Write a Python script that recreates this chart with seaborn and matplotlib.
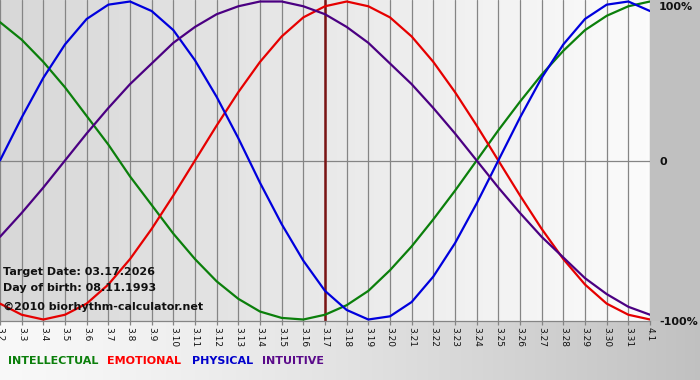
import numpy as np
import pandas as pd
import matplotlib
matplotlib.use("Agg")
import matplotlib.pyplot as plt
import seaborn as sns

# ---------------- data ----------------
days = ["3.2", "3.3", "3.4", "3.5", "3.6", "3.7", "3.8", "3.9", "3.10", "3.11",
        "3.12", "3.13", "3.14", "3.15", "3.16", "3.17", "3.18", "3.19", "3.20",
        "3.21", "3.22", "3.23", "3.24", "3.25", "3.26", "3.27", "3.28", "3.29",
        "3.30", "3.31", "4.1"]
physical = [0.00, 0.27, 0.52, 0.73, 0.89, 0.98, 1.00, 0.94, 0.82, 0.63, 0.40,
            0.14, -0.14, -0.40, -0.63, -0.82, -0.94, -1.00, -0.98, -0.89, -0.73,
            -0.52, -0.27, 0.00, 0.27, 0.52, 0.73, 0.89, 0.98, 1.00, 0.94]
emotional = [-0.90, -0.97, -1.00, -0.97, -0.90, -0.78, -0.62, -0.43, -0.22, 0.00,
             0.22, 0.43, 0.62, 0.78, 0.90, 0.97, 1.00, 0.97, 0.90, 0.78, 0.62,
             0.43, 0.22, 0.00, -0.22, -0.43, -0.62, -0.78, -0.90, -0.97, -1.00]
intellectual = [0.87, 0.76, 0.62, 0.46, 0.28, 0.10, -0.10, -0.28, -0.46, -0.62,
                -0.76, -0.87, -0.95, -0.99, -1.00, -0.97, -0.91, -0.82, -0.69,
                -0.54, -0.37, -0.19, 0.00, 0.19, 0.37, 0.54, 0.69, 0.82, 0.91,
                0.97, 1.00]
intuitive = [-0.48, -0.33, -0.17, 0.00, 0.17, 0.33, 0.48, 0.61, 0.74, 0.84, 0.92,
             0.97, 1.00, 1.00, 0.97, 0.92, 0.84, 0.74, 0.61, 0.48, 0.33, 0.17,
             0.00, -0.17, -0.33, -0.48, -0.61, -0.74, -0.84, -0.92, -0.97]
series_names = ["INTELLECTUAL", "EMOTIONAL", "PHYSICAL", "INTUITIVE"]
target_day = "3.17"
y_labels = ["100%", "0", "-100%"]
info_lines = ["Target Date: 03.17.2026", "Day of birth: 08.11.1993",
              "\u00a92010 biorhythm-calculator.net"]

# ---------------- styles ----------------
line_colors = {"INTELLECTUAL": "#0b7f0b", "EMOTIONAL": "#e60000",
               "PHYSICAL": "#0000dd", "INTUITIVE": "#4b0082"}
legend_colors = {"INTELLECTUAL": "#0b7f0b", "EMOTIONAL": "#ff0000",
                 "PHYSICAL": "#0000cc", "INTUITIVE": "#5a0a8a"}

sns.set_theme(style="white")
plt.rcParams["font.family"] = ["DejaVu Sans"]

W, H = 700, 380
PX_RIGHT, PX_BOTTOM = 650, 321
fig = plt.figure(figsize=(W / 100, H / 100), dpi=100)

# background image (gradients)
bg = np.empty((H, W, 3))
bg[:, :, :] = 0.755  # right margin gray
xs_plot = np.linspace(0, 1, PX_RIGHT)
plot_shade = 0.845 + (0.985 - 0.845) * xs_plot
bg[:PX_BOTTOM, :PX_RIGHT, :] = plot_shade[None, :, None]
xs_all = np.linspace(0, 1, W)
bottom_shade = 0.975 - (0.975 - 0.755) * xs_all ** 1.3
bg[PX_BOTTOM:, :, :] = bottom_shade[None, :, None]
bgax = fig.add_axes([0, 0, 1, 1])
bgax.imshow(bg, aspect="auto", interpolation="bilinear")
bgax.set_axis_off()

ax = fig.add_axes([0, (H - PX_BOTTOM) / H, PX_RIGHT / W, PX_BOTTOM / H])
ax.patch.set_alpha(0)

x_idx = list(range(len(days)))
df = pd.concat([
    pd.DataFrame({"x": x_idx, "value": vals, "series": name})
    for name, vals in zip(series_names, [intellectual, emotional, physical, intuitive])
], ignore_index=True)

ax.set_xticks(x_idx)
ax.grid(axis="x", color="#858585", linewidth=0.9, zorder=0)
ax.grid(axis="y", visible=False)
ax.axhline(0, color="#858585", linewidth=0.9, zorder=0)

sns.lineplot(data=df, x="x", y="value", hue="series", hue_order=series_names,
             palette=line_colors, linewidth=1.6, legend=False, errorbar=None,
             sort=False, ax=ax, zorder=3)

ax.axvline(days.index(target_day), color="#7a1414", linewidth=1.8, zorder=2)

ax.set_xlim(0, len(days) - 1)
ax.set_ylim(-1.0094, 1.0094)
ax.set_xticklabels(days, rotation=-90, fontsize=6.5, color="#111111")
ax.set_yticks([])
ax.set_xlabel("")
ax.set_ylabel("")
ax.tick_params(axis="x", direction="out", length=3, width=0.9, color="#858585",
               pad=1.5, bottom=True)
for s in ["top", "left", "right"]:
    ax.spines[s].set_visible(False)
ax.spines["bottom"].set_color("#858585")
ax.spines["bottom"].set_linewidth(0.9)

# right-side percentage labels
for lbl, ypx in zip(y_labels, [7, 162, 322]):
    fig.text(659 / W, 1 - ypx / H, lbl, ha="left", va="center",
             fontsize=8, fontweight="bold", color="#111111")

# info text in lower-left
for line, ypx in zip(info_lines, [272, 288, 307]):
    fig.text(3 / W, 1 - ypx / H, line, ha="left", va="center",
             fontsize=8, fontweight="bold", color="#111111", zorder=10)

# legend row
for name, xpx in zip(series_names, [8, 107, 192, 262]):
    fig.text(xpx / W, 1 - 361 / H, name, ha="left", va="center",
             fontsize=8, fontweight="bold", color=legend_colors[name])

fig.savefig("out.png", dpi=100)
